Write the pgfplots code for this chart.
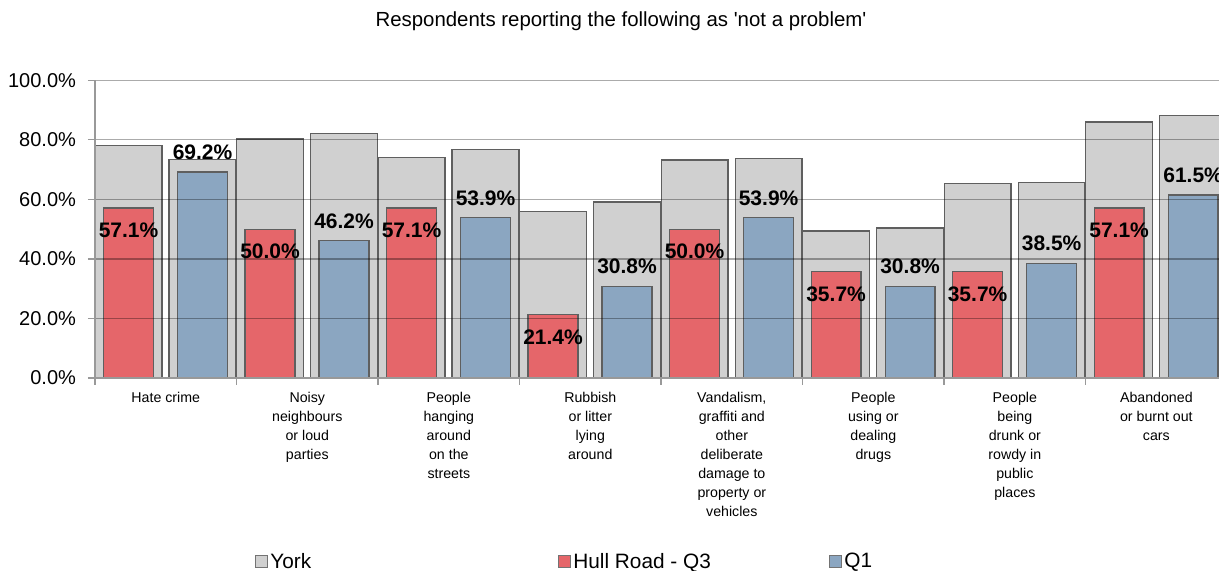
\documentclass[border=0pt]{standalone}
\usepackage{pgfplots}
\pgfplotsset{compat=1.18}
\usepackage{pgfplotstable}
\usepackage{fontspec}
\setmainfont{Liberation Sans}
\newfontfamily\plainfont{Liberation Sans}
\definecolor{yorkgrey}{RGB}{208,208,208}
\definecolor{hullred}{RGB}{229,102,106}
\definecolor{qblue}{RGB}{139,166,193}
\definecolor{edgegrey}{RGB}{95,95,95}

% York (left bar of each category, beside Hull Road - Q3)
\pgfplotstableread{
x y
-0.263 78.0
0.737 80.3
1.737 74.1
2.737 56.0
3.737 73.2
4.737 49.4
5.737 65.2
6.737 86.0
}\yorkL
% York (right bar of each category, beside Q1)
\pgfplotstableread{
x y
0.260 73.4
1.260 82.0
2.260 76.8
3.260 59.1
4.260 73.6
5.260 50.4
6.260 65.6
7.260 88.1
}\yorkR
\pgfplotstableread{
x y
-0.263 57.1
0.737 50.0
1.737 57.1
2.737 21.4
3.737 50.0
4.737 35.7
5.737 35.7
6.737 57.1
}\hull
\pgfplotstableread{
x y
0.260 69.2
1.260 46.2
2.260 53.9
3.260 30.8
4.260 53.9
5.260 30.8
6.260 38.5
7.260 61.5
}\qone

\begin{document}
\begin{tikzpicture}[x=1pt,y=1pt]
\useasboundingbox (-47.5,-96.5) rectangle (562,189);
\begin{axis}[
  at={(0,0)}, anchor=south west,
  scale only axis, width=562pt, height=148.85pt,
  xmin=-0.5, xmax=7.443, ymin=0, ymax=100,
  axis x line*=bottom, axis y line*=left,
  axis line style={draw=black!40, line width=0.6pt},
  axis on top,
  ymajorgrids,
  major grid style={draw=black, opacity=0.33, line width=0.6pt},
  ytick={0,20,40,60,80,100},
  yticklabel={\pgfmathprintnumber[fixed,fixed zerofill,precision=1]{\tick}\%},
  /pgf/number format/assume math mode=true,
  yticklabel style={font=\fontsize{10}{12}\selectfont, xshift=-2.5pt},
  xtick={-0.5,0.5,1.5,2.5,3.5,4.5,5.5,6.5,7.5},
  xticklabels={Hate crime,
    Noisy\\neighbours\\or loud\\parties,
    People\\hanging\\around\\on the\\streets,
    Rubbish\\or litter\\lying\\around,
    {Vandalism,\\graffiti and\\other\\deliberate\\damage to\\property or\\vehicles},
    People\\using or\\dealing\\drugs,
    People\\being\\drunk or\\rowdy in\\public\\places,
    Abandoned\\or burnt out\\cars, {}},
  xticklabel style={font=\fontsize{7.1}{9.5}\selectfont, align=center, xshift=35.4pt, anchor=north, yshift=0pt},
  tick align=outside,
  major tick length=3.5pt,
  tick style={draw=black!40, line width=0.6pt},
  legend columns=3,
  legend style={draw=none, fill=none, at={(0.1423,-0.618)}, anchor=west,
    inner sep=0pt, nodes={inner sep=1pt}, font=\fontsize{10.4}{12}\selectfont,
    /tikz/every even column/.append style={column sep=0pt}},
  legend image code/.code={\draw[#1, draw=black!55, line width=0.5pt] (0pt,-3pt) rectangle (6pt,3pt);},
]
\addplot[ybar, bar width=0.473, bar shift=0pt, fill=yorkgrey, draw=edgegrey, line width=0.6pt] table[x=x,y=y] {\yorkL};
\addlegendentry{\makebox[143pt][l]{York}}
\addplot[ybar, bar width=0.473, bar shift=0pt, fill=yorkgrey, draw=edgegrey, line width=0.6pt, forget plot] table[x=x,y=y] {\yorkR};
\addplot[ybar, bar width=0.353, bar shift=0pt, fill=hullred, draw=edgegrey, line width=0.6pt,
  nodes near coords={\pgfmathprintnumber[fixed,fixed zerofill,precision=1]{\pgfplotspointmeta}\%},
  every node near coord/.append style={font=\bfseries\fontsize{10.5}{12}\selectfont, anchor=center, yshift=-11.3pt, text=black}]
  table[x=x,y=y] {\hull};
\addlegendentry{\makebox[127pt][l]{Hull Road - Q3}}
\addplot[ybar, bar width=0.353, bar shift=0pt, fill=qblue, draw=edgegrey, line width=0.6pt,
  nodes near coords={\pgfmathprintnumber[fixed,fixed zerofill,precision=1]{\pgfplotspointmeta}\%},
  every node near coord/.append style={font=\bfseries\fontsize{10.5}{12}\selectfont, anchor=center, yshift=9.8pt, text=black}]
  table[x=x,y=y] {\qone};
\addlegendentry{Q1}
\end{axis}
\node[font=\plainfont\fontsize{10.2}{12}\selectfont] at (263,178.5) {Respondents reporting the following as 'not a problem'};
\end{tikzpicture}
\end{document}
